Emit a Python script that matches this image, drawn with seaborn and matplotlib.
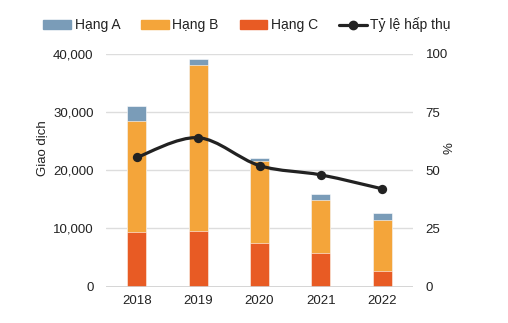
import numpy as np
import pandas as pd
import matplotlib
matplotlib.use("Agg")
import matplotlib.pyplot as plt
import seaborn as sns
from matplotlib.path import Path
from matplotlib.patches import PathPatch
from matplotlib.lines import Line2D
from matplotlib.patches import Patch

years = ["2018", "2019", "2020", "2021", "2022"]
hang_a = [2500, 1000, 550, 1100, 1200]
hang_b = [19100, 28500, 14200, 9200, 8900]
hang_c = [9400, 9600, 7400, 5700, 2600]
ty_le = [55.5, 64, 52, 48, 42]

col_a = "#7A9CB8"
col_b = "#F4A53A"
col_c = "#E85B24"
col_line = "#222222"

sns.set_theme(style="white")
plt.rcParams["font.family"] = ["Liberation Sans", "DejaVu Sans"]

df = pd.DataFrame({"year": years, "A": hang_a, "B": hang_b, "C": hang_c})
df["CB"] = df["C"] + df["B"]
df["CBA"] = df["CB"] + df["A"]

fig = plt.figure(figsize=(5.08, 3.23), dpi=100)
ax = fig.add_axes([106/508, 1-286.5/323, 307/508, 232.5/323])

w = 0.31
sns.barplot(data=df, x="year", y="CBA", color=col_a, width=w, ax=ax, saturation=1,
            edgecolor="white", linewidth=0.4)
sns.barplot(data=df, x="year", y="CB", color=col_b, width=w, ax=ax, saturation=1,
            edgecolor="white", linewidth=0.4)
sns.barplot(data=df, x="year", y="C", color=col_c, width=w, ax=ax, saturation=1,
            edgecolor="white", linewidth=0.4)

ax.set_xlim(-0.5, 4.5)
ax.set_ylim(0, 40000)
ax.set_yticks([0, 10000, 20000, 30000, 40000])
ax.set_yticklabels([f"{v:,}" for v in [0, 10000, 20000, 30000, 40000]], fontsize=9.5, color="#222")
ax.tick_params(axis="x", labelsize=9.5, colors="#222", length=0, pad=6)
ax.tick_params(axis="y", length=0, pad=9)
ax.set_xlabel("")
ax.set_ylabel("Giao dịch", fontsize=9.5, color="#222")
ax.yaxis.set_label_coords(-0.19, 0.596)
ax.grid(axis="y", color="#DDDDDD", linewidth=1)
ax.set_axisbelow(True)
for s in ax.spines.values():
    s.set_visible(False)
ax.axhline(0, color="#D0D0D0", linewidth=1.2, zorder=1)

ax2 = ax.twinx()
ax2.set_ylim(0, 100)
ax2.set_yticks([0, 25, 50, 75, 100])
ax2.tick_params(axis="y", length=0, labelsize=9.5, colors="#222", pad=9)
ax2.set_ylabel("%", fontsize=9.5, color="#222", rotation=90)
ax2.yaxis.set_label_coords(1.10, 0.596)
for s in ax2.spines.values():
    s.set_visible(False)
ax2.grid(False)

# smoothed line (Catmull-Rom style Bezier through data points)
xs = np.arange(len(ty_le), dtype=float)
ys = np.array(ty_le, dtype=float)
verts = [(xs[0], ys[0])]
codes = [Path.MOVETO]
t = 1/6
for i in range(len(xs) - 1):
    p0 = (xs[i-1], ys[i-1]) if i > 0 else (xs[i], ys[i])
    p1 = (xs[i], ys[i])
    p2 = (xs[i+1], ys[i+1])
    p3 = (xs[i+2], ys[i+2]) if i + 2 < len(xs) else (xs[i+1], ys[i+1])
    c1 = (p1[0] + (p2[0]-p0[0])*t, p1[1] + (p2[1]-p0[1])*t)
    c2 = (p2[0] - (p3[0]-p1[0])*t, p2[1] - (p3[1]-p1[1])*t)
    verts += [c1, c2, p2]
    codes += [Path.CURVE4]*3
ax2.add_patch(PathPatch(Path(verts, codes), facecolor="none", edgecolor=col_line, lw=2.3, zorder=3))
sns.scatterplot(x=xs, y=ys, color=col_line, s=45, ax=ax2, zorder=4, edgecolor=col_line, linewidth=0)

handles = [Patch(color=col_a), Patch(color=col_b), Patch(color=col_c),
           Line2D([0], [0], color=col_line, lw=2.3, marker="o", markersize=6)]
labels = ["Hạng A", "Hạng B", "Hạng C", "Tỷ lệ hấp thụ"]
fig.legend(handles, labels, loc="center", bbox_to_anchor=(247/508, 1-25/323), ncol=4,
           frameon=False, fontsize=10, handlelength=2.0, handleheight=0.55,
           handletextpad=0.25, columnspacing=1.5, labelcolor="#222")

fig.savefig("out.png", dpi=100)
